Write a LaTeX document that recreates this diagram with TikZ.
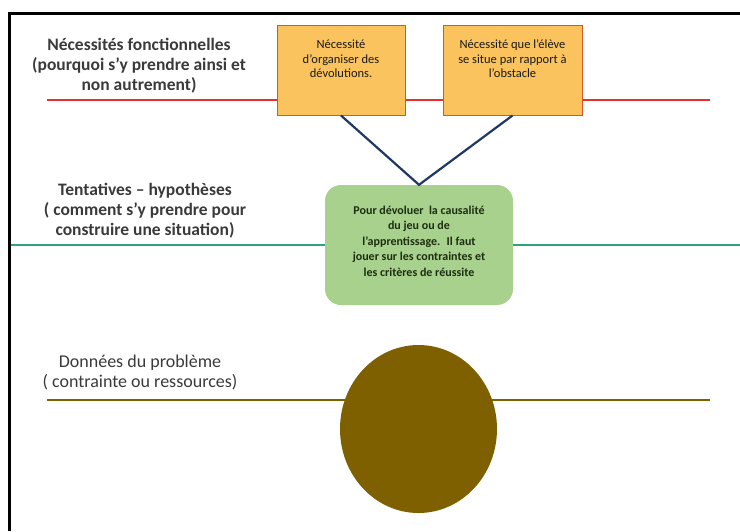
\documentclass[tikz,border=0pt]{standalone}
\usepackage{fontspec}
\setmainfont{Carlito}
\usetikzlibrary{shapes.geometric}
\definecolor{lblgray}{HTML}{3A3A3A}
\definecolor{redln}{HTML}{E2312F}
\definecolor{boxfill}{HTML}{FBC35E}
\definecolor{boxedge}{HTML}{D9542A}
\definecolor{navyln}{HTML}{1F3864}
\definecolor{greenfill}{HTML}{A8D18D}
\definecolor{tealln}{HTML}{2EA37C}
\definecolor{oliveln}{HTML}{7F6000}
\definecolor{gtext}{HTML}{1C2E10}
\begin{document}
\begin{tikzpicture}[x=1pt,y=-1pt,
  lbl/.style={align=center, text=lblgray, inner sep=0pt},
  lblbold/.style={lbl, font=\bfseries\fontsize{17.5}{20}\selectfont},
  lblnorm/.style={lbl, font=\fontsize{18}{20}\selectfont},
  obox/.style={draw=boxedge, line width=1pt, fill=boxfill, minimum width=128pt, minimum height=90pt, inner sep=0pt},
  otext/.style={align=center, inner sep=0pt, text=black!90, font=\fontsize{12.5}{14.5}\selectfont},
  gbox/.style={fill=greenfill, rounded corners=16pt, minimum width=188pt, minimum height=120pt, inner sep=0pt},
  gtxt/.style={align=center, inner sep=0pt, text=gtext, font=\bfseries\fontsize{12}{15.5}\selectfont},
  bigdot/.style={ellipse, fill=oliveln, minimum width=157pt, minimum height=168pt, inner sep=0pt},
  frameln/.style={black, line width=3pt},
]
\useasboundingbox (0,0) rectangle (740,531);
% frame
\coordinate (fA) at (9.5,531);
\coordinate (fB) at (9.5,13.5);
\coordinate (fC) at (740,13.5);
\draw[frameln] (fA) -- (fB) -- (fC);
% horizontal lines
\coordinate (rL) at (47,100);
\coordinate (rR) at (710,100);
\draw[redln, line width=2.2pt] (rL) -- (rR);
\coordinate (tL) at (11,245);
\coordinate (tR) at (740,245);
\draw[tealln, line width=2pt] (tL) -- (tR);
\coordinate (oL) at (47,400);
\coordinate (oR) at (710,400);
\draw[oliveln, line width=2.5pt] (oL) -- (oR);
% labels
\node[lblbold] (nf) at (139,66) {Nécessités fonctionnelles\\(pourquoi s’y prendre ainsi et\\non autrement)};
\node[lblbold] (th) at (145,211) {Tentatives – hypothèses\\( comment s’y prendre pour\\construire une situation)};
\node[lblnorm] (dp) at (140,372) {Données du problème\\( contrainte ou ressources)};
% boxes
\node[obox] (b1) at (341,70) {};
\node[otext] (b1t) at (341,59) {Nécessité\\d’organiser des\\dévolutions.};
\node[obox, minimum width=139pt] (b2) at (512.5,70) {};
\node[otext] (b2t) at (512.5,59) {Nécessité que l’élève\\se situe par rapport à\\l’obstacle};
\node[gbox] (g) at (419,245) {};
\node[gtxt] (gt) at (419,241) {Pour dévoluer~ la causalité\\du jeu ou de\\l’apprentissage.~ Il faut\\jouer sur les contraintes et\\les critères de réussite};
\draw[navyln, line width=2.2pt] (b1.south) -- (g.north) -- (b2.south);
\node[bigdot] (e) at (418.5,429) {};
\end{tikzpicture}
\end{document}
